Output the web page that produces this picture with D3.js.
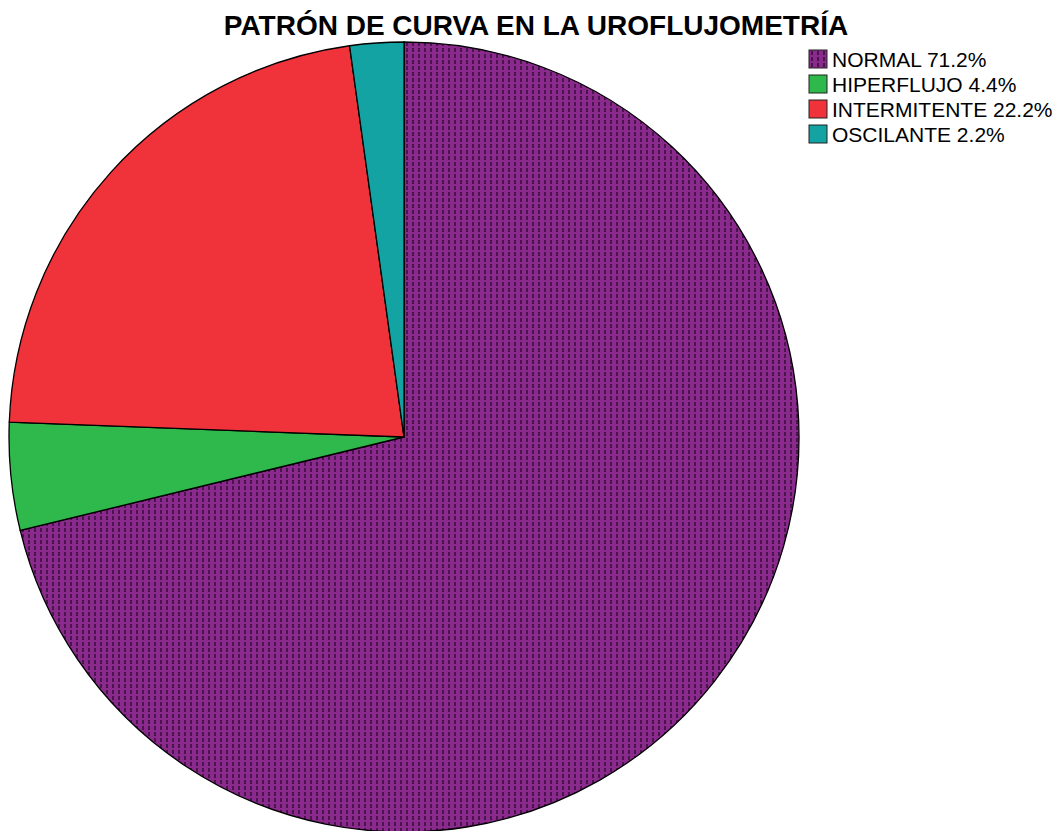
<!DOCTYPE html>
<html>
<head>
<meta charset="utf-8">
<script src="https://cdn.jsdelivr.net/npm/d3@7"></script>
<style>
  body { margin: 0; background: #fff; }
  svg { display: block; font-family: "Liberation Sans", Arial, sans-serif; }
</style>
</head>
<body>
<div id="chart"></div>
<script>
// chart data
const categories = ["NORMAL", "HIPERFLUJO", "INTERMITENTE", "OSCILANTE"];
const percents = [71.2, 4.4, 22.2, 2.2];
const legendLabels = ["NORMAL 71.2%", "HIPERFLUJO 4.4%", "INTERMITENTE 22.2%", "OSCILANTE 2.2%"];
const title = "PATRÓN DE CURVA EN LA UROFLUJOMETRÍA";

const width = 1055, height = 831;
const cx = 404, cy = 437, radius = 395;

const svg = d3.select("#chart").append("svg")
    .attr("width", width)
    .attr("height", height);

// dotted purple fill like the original
const defs = svg.append("defs");
const pat = defs.append("pattern")
    .attr("id", "purpleDots")
    .attr("patternUnits", "userSpaceOnUse")
    .attr("width", 6)
    .attr("height", 6);
pat.append("rect").attr("width", 6).attr("height", 6).attr("fill", "#8a2a8c");
pat.append("rect").attr("x", 2).attr("y", 1).attr("width", 2).attr("height", 4).attr("fill", "#4a154c");

const color = d3.scaleOrdinal()
    .domain(categories)
    .range(["url(#purpleDots)", "#2fb84b", "#f0333b", "#13a3a3"]);

const pie = d3.pie()
    .sort(null)
    .value(d => d.value);

const arc = d3.arc()
    .innerRadius(0)
    .outerRadius(radius);

const data = categories.map((c, i) => ({ name: c, value: percents[i] }));

const g = svg.append("g")
    .attr("transform", "translate(" + cx + "," + cy + ")");

g.selectAll("path")
    .data(pie(data))
    .enter().append("path")
    .attr("d", arc)
    .attr("fill", d => color(d.data.name))
    .attr("stroke", "#000")
    .attr("stroke-width", 1.3);

// title
svg.append("text")
    .attr("x", 536)
    .attr("y", 35)
    .attr("text-anchor", "middle")
    .attr("font-size", 28)
    .attr("font-weight", "bold")
    .attr("fill", "#000")
    .text(title);

// legend
const legend = svg.append("g")
    .attr("transform", "translate(809,50)");

const rows = legend.selectAll("g")
    .data(categories)
    .enter().append("g")
    .attr("transform", (d, i) => "translate(0," + i * 25 + ")");

rows.append("rect")
    .attr("width", 18)
    .attr("height", 18)
    .attr("fill", d => color(d))
    .attr("stroke", "#222")
    .attr("stroke-width", 1);

rows.append("text")
    .attr("x", 23)
    .attr("y", 17)
    .attr("font-size", 21)
    .attr("fill", "#000")
    .text((d, i) => legendLabels[i]);
</script>
</body>
</html>
